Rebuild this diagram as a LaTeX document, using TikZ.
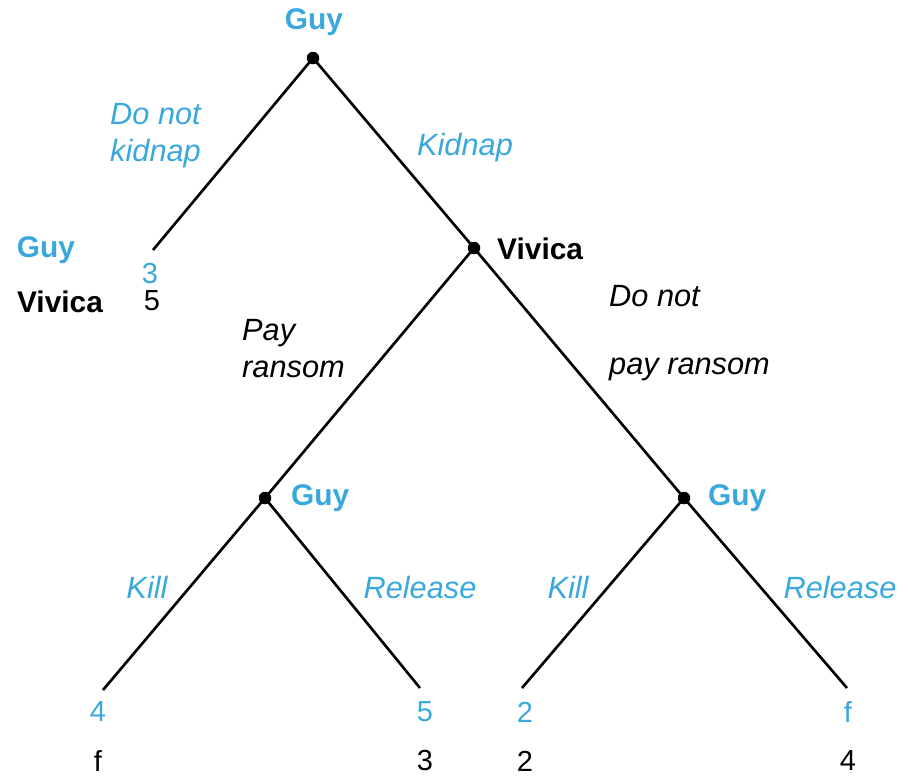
\documentclass[tikz,border=0pt]{standalone}
\usepackage{fontspec}
\setmainfont{Liberation Sans}
\usetikzlibrary{positioning}
\definecolor{guyblue}{HTML}{3AA8DC}
\tikzset{
	decision/.style = {circle, fill=black, inner sep=0pt, minimum size=2.5mm},
	leaf/.style     = {coordinate},
	branch/.style   = {line width=1.5pt},
	player/.style   = {font=\bfseries\fontsize{17}{19}\selectfont},
	move/.style     = {font=\itshape\fontsize{17.5}{21}\selectfont, align=left},
	payoff/.style   = {font=\fontsize{16.5}{19}\selectfont}
}

\begin{document}
\begin{tikzpicture}
	\useasboundingbox (0,0) rectangle (18.16,-15.58);
	\node (root)    [decision] at (6.26,-1.16) {};
	\node (noKid)   [leaf]     at (3.06,-5.0) {};
	\node (vivica)  [decision] at (9.48,-4.96) {};
	\node (guyPay)  [decision] at (5.30,-9.96) {};
	\node (guyNo)   [decision] at (13.68,-9.96) {};
	\node (leaf1)   [leaf]     at (2.06,-13.8) {};
	\node (leaf2)   [leaf]     at (8.40,-13.76) {};
	\node (leaf3)   [leaf]     at (10.44,-13.76) {};
	\node (leaf4)   [leaf]     at (16.94,-13.76) {};

	% players
	\node (pRoot)   [player, text=guyblue] at (6.28,-0.44) {Guy};
	\node (pVivica) [player, anchor=west]  at (9.82,-4.98) {Vivica};
	\node (pPay)    [player, text=guyblue, anchor=west] at (5.70,-9.96) {Guy};
	\node (pNo)     [player, text=guyblue, anchor=west] at (14.04,-9.96) {Guy};

	% moves
	\node (mNoKid)  [move, text=guyblue, anchor=west] at (2.08,-2.72) {Do not\\kidnap};
	\node (mKid)    [move, text=guyblue] at (9.30,-2.96) {Kidnap};
	\node (mPay)    [move, anchor=west] at (4.72,-6.97) {Pay\\ransom};
	\node (mNoPay)  [move, anchor=west] at (12.06,-6.66) {Do not\\[18pt]pay ransom};
	\node (mKill1)  [move, text=guyblue] at (2.94,-11.74) {Kill};
	\node (mRel1)   [move, text=guyblue] at (8.40,-11.74) {Release};
	\node (mKill2)  [move, text=guyblue] at (11.36,-11.74) {Kill};
	\node (mRel2)   [move, text=guyblue] at (16.80,-11.74) {Release};

	% payoffs
	\node (kGuy)    [player, text=guyblue] at (0.92,-5.0) {Guy};
	\node (kGuyV)   [payoff, text=guyblue] at (3.0,-5.48) {3};
	\node (kViv)    [player] at (1.20,-6.04) {Vivica};
	\node (kVivV)   [payoff] at (3.04,-6.02) {5};
	\node (g1)      [payoff, text=guyblue] at (1.96,-14.24) {4};
	\node (v1)      [payoff] at (1.96,-15.22) {f};
	\node (g2)      [payoff, text=guyblue] at (8.50,-14.24) {5};
	\node (v2)      [payoff] at (8.50,-15.22) {3};
	\node (g3)      [payoff, text=guyblue] at (10.50,-14.24) {2};
	\node (v3)      [payoff] at (10.50,-15.22) {2};
	\node (g4)      [payoff, text=guyblue] at (16.96,-14.24) {f};
	\node (v4)      [payoff] at (16.96,-15.22) {4};

	\draw [branch] (root.center)   -- (noKid);
	\draw [branch] (root.center)   -- (vivica.center);
	\draw [branch] (vivica.center) -- (guyPay.center);
	\draw [branch] (vivica.center) -- (guyNo.center);
	\draw [branch] (guyPay.center) -- (leaf1);
	\draw [branch] (guyPay.center) -- (leaf2);
	\draw [branch] (guyNo.center)  -- (leaf3);
	\draw [branch] (guyNo.center)  -- (leaf4);
\end{tikzpicture}
\end{document}
